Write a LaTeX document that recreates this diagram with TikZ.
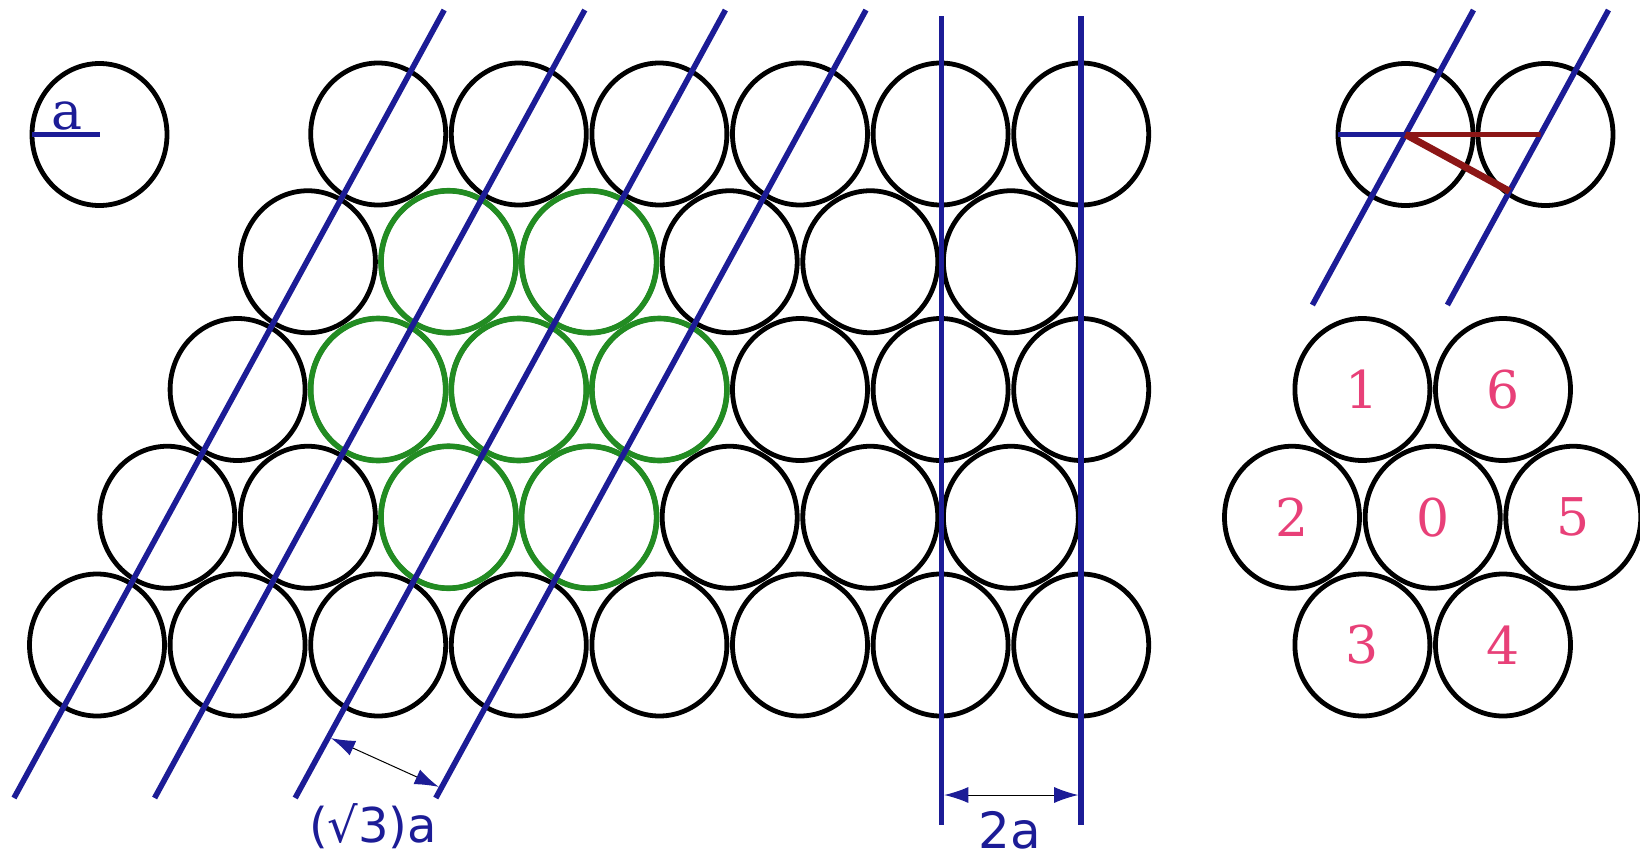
\documentclass[tikz,border=0pt]{standalone}
\usepackage{fontspec}
\setmainfont{DejaVu Serif}
\setsansfont{DejaVu Sans}
\usetikzlibrary{arrows.meta,calc}
\definecolor{lblue}{RGB}{28,28,150}
\definecolor{ggreen}{RGB}{34,140,34}
\definecolor{dred}{RGB}{140,22,22}
\definecolor{npink}{RGB}{232,64,120}
\begin{document}
\begin{tikzpicture}[x=0.5pt,y=-0.5pt,
  ball/.style={line width=2.4pt,draw=black},
  gball/.style={line width=2.8pt,draw=ggreen},
  bline/.style={line width=2.8pt,draw=lblue},
  rthin/.style={line width=2.3pt,draw=dred},
  rthick/.style={line width=3.5pt,draw=dred},
  dimarrow/.style={line width=0.5pt,draw=black,
    {Latex[length=12pt,width=8pt,color=lblue,fill=lblue]}-{Latex[length=12pt,width=8pt,color=lblue,fill=lblue]}},
  num/.style={text=npink,font=\fontsize{26}{30}\selectfont},
  lbl/.style={text=lblue,font=\sffamily\fontsize{24}{30}\selectfont}]
\useasboundingbox (0,0) rectangle (1640,857);
\fill[white] (0,0) rectangle (1640,857);

% main lattice
\foreach \r/\n in {0/7,1/6,2/6,3/5,4/5}
  \foreach \k in {0,...,\n}
    \draw[ball] ({97+70.3*\r+140.6*\k},{645-127.75*\r}) ellipse [x radius=67.5,y radius=71];
% green cluster
\foreach \r/\k in {1/2,1/3,2/1,2/2,2/3,3/1,3/2}
  \draw[gball] ({97+70.3*\r+140.6*\k},{645-127.75*\r}) ellipse [x radius=67.5,y radius=71];

% single circle with radius a
\coordinate (sc) at (99.5,134.5);
\coordinate (se) at (32,134.5);
\draw[ball] (sc) ellipse [x radius=67.5,y radius=71];
\draw[bline] (se) -- (sc);
\node[text=lblue,font=\fontsize{26}{30}\selectfont] (la) at (67,116) {a};

% diagonal lines
\foreach \i in {1,...,4}{
  \coordinate (d\i b) at ({14+140.6*(\i-1)},798);
  \coordinate (d\i t) at ({444.2+140.6*(\i-1)},10);
  \draw[bline] (d\i b) -- (d\i t);
}
% vertical lines
\coordinate (v1t) at (941.5,16);
\coordinate (v1b) at (941.5,825);
\coordinate (v2t) at (1081,16);
\coordinate (v2b) at (1081,825);
\draw[bline] (v1t) -- (v1b);
\draw[bline] (v2t) -- (v2b);

% dimension arrows
\coordinate (s3) at ($(d3b)!{61/788}!(d3t)$);
\coordinate (s4) at ($(d4b)!{10/788}!(d4t)$);
\draw[dimarrow,shorten <=1.4pt,shorten >=1.4pt] (s3) -- (s4);
\node[lbl] (lsq) at (373,826) {(√3)a};
\coordinate (m1) at (941.5,795);
\coordinate (m2) at (1081,795);
\draw[dimarrow,shorten <=1.4pt,shorten >=1.4pt] (m1) -- (m2);
\node[lbl,font=\sffamily\fontsize{25}{30}\selectfont] (l2a) at (1010,830) {2a};

% top right pair
\coordinate (L) at (1405.5,134.5);
\coordinate (R) at (1545.5,134.5);
\draw[ball] (L) ellipse [x radius=67.5,y radius=71];
\draw[ball] (R) ellipse [x radius=67.5,y radius=71];
\coordinate (at) at (1473.5,10);
\coordinate (ab) at (1312.4,305);
\coordinate (bt) at (1608.5,10);
\coordinate (bb) at (1447.4,305);
\draw[bline] (ab) -- (at);
\draw[bline] (bb) -- (bt);
\coordinate (Le) at (1338,134.5);
\coordinate (H) at ($(bt)!{124.5/295}!(bb)$);
\coordinate (F) at ($(bt)!(L)!(bb)$);
\draw[bline] (Le) -- (L);
\draw[rthin] (L) -- (H);
\draw[rthick] (L) -- (F);

% numbered hexagonal cluster
\foreach \name/\x/\y in {1/1362.4/389.5,6/1503/389.5,2/1292/517.25,0/1432.7/517.25,5/1573.3/517.25,3/1362.4/645,4/1503/645}{
  \draw[ball] (\x,\y) ellipse [x radius=67.5,y radius=71];
  \node[num] (n\name) at (\x,\y) {\name};
}
\end{tikzpicture}
\end{document}
